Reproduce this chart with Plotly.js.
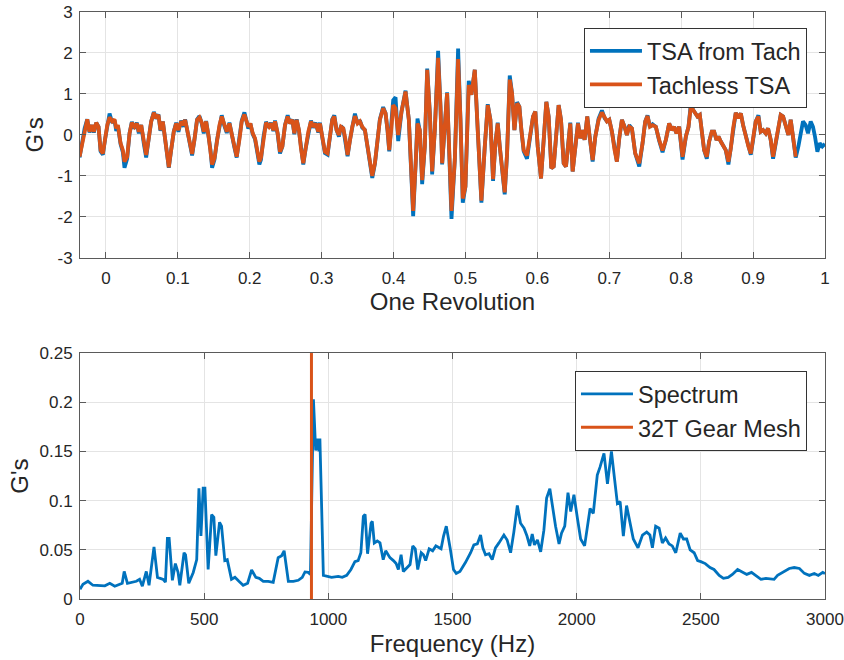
<!DOCTYPE html>
<html><head><meta charset="utf-8">
<script src="https://cdn.plot.ly/plotly-3.0.1.min.js"></script>
<style>html,body{margin:0;padding:0;background:#fff}#chart{width:844px;height:660px}</style>
</head><body><div id="chart"></div>
<script>
const revolution = [
-0.0366,-0.0333,-0.0296,-0.0259,-0.0227,-0.0194,-0.0167,-0.0134,-0.0102,-0.0074,
-0.0042,-0.0009,0.0019,0.0051,0.0088,0.0120,0.0144,0.0167,0.0204,0.0236,
0.0259,0.0296,0.0329,0.0361,0.0398,0.0430,0.0458,0.0491,0.0528,0.0560,
0.0593,0.0630,0.0667,0.0700,0.0731,0.0759,0.0792,0.0824,0.0852,0.0875,
0.0907,0.0944,0.0977,0.1009,0.1046,0.1083,0.1102,0.1139,0.1176,0.1199,
0.1231,0.1268,0.1301,0.1333,0.1361,0.1394,0.1426,0.1454,0.1477,0.1510,
0.1546,0.1579,0.1611,0.1648,0.1681,0.1718,0.1750,0.1787,0.1819,0.1856,
0.1889,0.1926,0.1949,0.1981,0.2009,0.2042,0.2074,0.2102,0.2134,0.2157,
0.2190,0.2227,0.2269,0.2296,0.2329,0.2352,0.2389,0.2421,0.2454,0.2491,
0.2528,0.2560,0.2593,0.2620,0.2653,0.2685,0.2713,0.2745,0.2778,0.2815,
0.2852,0.2884,0.2917,0.2954,0.2977,0.3009,0.3046,0.3083,0.3116,0.3148,
0.3176,0.3208,0.3241,0.3269,0.3301,0.3333,0.3361,0.3394,0.3426,0.3463,
0.3500,0.3532,0.3565,0.3602,0.3639,0.3671,0.3704,0.3741,0.3778,0.3810,
0.3856,0.3889,0.3917,0.3940,0.3972,0.3995,0.4028,0.4065,0.4111,0.4167,
0.4213,0.4250,0.4273,0.4310,0.4333,0.4366,0.4398,0.4435,0.4468,0.4505,
0.4537,0.4574,0.4620,0.4653,0.4676,0.4745,0.4806,0.4852,0.4898,0.4931,
0.4963,0.5000,0.5046,0.5083,0.5130,0.5171,0.5222,0.5269,0.5310,0.5347,
0.5384,0.5417,0.5449,0.5477,0.5509,0.5546,0.5579,0.5616,0.5648,0.5681,
0.5718,0.5750,0.5778,0.5810,0.5856,0.5903,0.5940,0.5972,0.6005,0.6051,
0.6088,0.6125,0.6157,0.6194,0.6227,0.6264,0.6296,0.6329,0.6366,0.6398,
0.6426,0.6458,0.6491,0.6528,0.6565,0.6597,0.6630,0.6657,0.6694,0.6727,
0.6769,0.6806,0.6852,0.6898,0.6935,0.6968,0.7000,0.7037,0.7074,0.7106,
0.7139,0.7176,0.7213,0.7245,0.7278,0.7315,0.7361,0.7417,0.7463,0.7500,
0.7532,0.7565,0.7602,0.7648,0.7694,0.7741,0.7787,0.7833,0.7870,0.7903,
0.7935,0.7972,0.8019,0.8065,0.8102,0.8134,0.8167,0.8194,0.8227,0.8259,
0.8287,0.8319,0.8356,0.8389,0.8426,0.8458,0.8491,0.8519,0.8551,0.8588,
0.8620,0.8657,0.8690,0.8722,0.8759,0.8796,0.8829,0.8861,0.8898,0.8935,
0.8968,0.9000,0.9037,0.9074,0.9106,0.9139,0.9176,0.9208,0.9245,0.9278,
0.9315,0.9352,0.9384,0.9417,0.9454,0.9491,0.9523,0.9556,0.9593,
0.9630,0.9662,0.9694,0.9731,0.9764,0.9801,0.9833,0.9861,0.9894,0.9926,0.9963,1.0000
];
const tsaFromTach = [
-0.55,-0.24,0.16,0.38,0.06,0.24,0.06,0.30,0.20,-0.40,
-0.48,-0.08,0.26,0.52,0.30,0.36,0.10,0.22,-0.22,-0.42,
-0.80,-0.58,0.04,0.32,0.16,0.30,0.04,0.24,-0.22,-0.55,
-0.12,0.33,0.56,0.40,0.50,0.10,0.33,-0.12,-0.55,-0.80,
-0.37,0.08,0.30,0.08,0.35,0.20,0.38,0.05,-0.26,-0.50,
-0.12,0.38,0.46,0.28,0.04,0.34,-0.02,-0.36,-0.80,-0.60,
-0.12,0.26,0.48,0.22,0.05,0.30,-0.02,-0.30,-0.55,-0.12,
0.35,0.55,0.35,0.16,0.28,0.02,-0.10,-0.40,-0.72,-0.60,
-0.06,0.32,0.18,0.30,0.10,0.35,0.02,-0.45,-0.28,0.24,
0.48,0.28,0.38,0.02,0.38,0.10,-0.35,-0.72,-0.33,0.08,
0.35,0.18,0.30,0.06,0.30,-0.06,-0.44,-0.48,0.00,0.38,
0.48,0.12,-0.04,0.22,0.16,-0.14,-0.52,-0.12,0.22,0.52,
0.28,0.36,0.18,0.12,-0.30,-0.68,-1.05,-0.70,-0.20,0.38,
0.68,0.53,0.10,-0.40,0.35,0.85,0.92,-0.15,0.57,1.08,
0.37,-0.85,-1.98,-0.61,0.40,0.10,-1.20,-0.28,1.62,0.53,
-0.96,0.12,2.05,0.69,-0.72,1.04,-2.05,-0.61,2.11,0.37,
-1.65,-1.26,1.32,0.98,1.59,0.12,-1.65,-0.28,0.75,0.37,
-1.12,-0.20,0.30,-0.28,-0.77,-1.45,-0.45,1.45,1.02,0.12,
0.80,0.69,0.12,-0.40,-0.58,0.00,0.45,0.57,-0.28,-1.06,
-0.16,0.81,0.45,-0.81,-0.77,0.20,0.73,0.37,-0.69,-0.77,
-0.20,0.30,-0.89,-0.24,0.30,-0.08,0.12,-0.12,0.45,-0.04,
-0.65,-0.04,0.40,0.60,0.41,0.33,0.37,0.08,-0.37,-0.65,
-0.08,0.37,0.20,0.00,0.24,0.16,-0.45,-0.77,-0.20,0.33,
0.48,0.20,0.26,0.20,-0.14,-0.42,-0.12,0.28,0.12,0.20,
0.04,0.20,-0.60,-0.04,0.20,0.75,0.61,0.53,0.45,0.49,
0.08,-0.37,-0.58,-0.16,0.08,0.08,-0.12,-0.04,-0.16,-0.28,
-0.37,-0.72,-0.33,0.16,0.54,0.41,0.53,0.24,-0.04,-0.28,
-0.48,-0.12,0.33,0.48,0.08,0.12,0.04,0.16,-0.12,-0.58,
-0.20,0.20,0.49,0.45,0.24,0.00,0.37,0.00,-0.55,
-0.28,0.04,0.33,0.24,0.04,0.33,0.20,-0.04,-0.41,-0.20,-0.28,-0.22
];
const tachlessTsa = [
-0.53,-0.24,0.16,0.38,0.08,0.24,0.08,0.30,0.20,-0.37,
-0.45,-0.08,0.24,0.43,0.33,0.38,0.16,0.24,-0.20,-0.37,
-0.65,-0.53,0.04,0.30,0.20,0.28,0.08,0.24,-0.20,-0.49,
-0.12,0.33,0.54,0.41,0.49,0.12,0.33,-0.12,-0.53,-0.79,
-0.37,0.08,0.28,0.12,0.33,0.24,0.37,0.08,-0.24,-0.46,
-0.12,0.37,0.43,0.30,0.08,0.33,0.00,-0.33,-0.72,-0.57,
-0.12,0.24,0.45,0.24,0.08,0.28,0.00,-0.28,-0.53,-0.12,
0.33,0.50,0.37,0.20,0.28,0.04,-0.08,-0.37,-0.65,-0.55,
-0.06,0.30,0.20,0.28,0.12,0.33,0.04,-0.41,-0.28,0.24,
0.45,0.28,0.37,0.04,0.37,0.12,-0.33,-0.69,-0.33,0.08,
0.33,0.20,0.28,0.08,0.28,-0.04,-0.41,-0.45,0.00,0.37,
0.45,0.12,0.00,0.20,0.16,-0.12,-0.49,-0.12,0.20,0.46,
0.28,0.33,0.20,0.12,-0.28,-0.65,-1.00,-0.69,-0.20,0.37,
0.65,0.53,0.12,-0.37,0.20,0.73,0.65,0.00,0.57,1.06,
0.37,-0.85,-1.85,-0.61,0.28,0.12,-1.10,-0.28,1.59,0.53,
-0.89,0.12,1.88,0.69,-0.69,1.02,-1.85,-0.61,1.85,0.37,
-1.55,-1.26,1.22,0.98,1.59,0.12,-1.60,-0.28,0.73,0.37,
-1.08,-0.20,0.28,-0.28,-0.77,-1.40,-0.45,1.35,1.02,0.12,
0.77,0.69,0.12,-0.37,-0.50,0.00,0.45,0.57,-0.28,-1.06,
-0.16,0.81,0.45,-0.81,-0.77,0.20,0.73,0.37,-0.69,-0.77,
-0.20,0.28,-0.89,-0.24,0.28,-0.08,0.12,-0.12,0.45,-0.04,
-0.61,-0.04,0.37,0.55,0.41,0.33,0.37,0.08,-0.37,-0.65,
-0.08,0.37,0.20,0.00,0.20,0.16,-0.45,-0.69,-0.20,0.33,
0.46,0.20,0.24,0.20,-0.12,-0.38,-0.12,0.28,0.12,0.20,
0.04,0.20,-0.53,-0.04,0.20,0.69,0.61,0.53,0.45,0.49,
0.08,-0.37,-0.53,-0.16,0.08,0.08,-0.12,-0.04,-0.16,-0.28,
-0.37,-0.65,-0.33,0.16,0.54,0.41,0.53,0.24,-0.04,-0.28,
-0.45,-0.12,0.33,0.45,0.08,0.12,0.04,0.16,-0.12,-0.53,
-0.20,0.20,0.49,0.45,0.24,0.00,0.37,0.00,-0.53
];
const frequencyHz = [
0,12,32,52,100,120,140,160,170,178,191,227,240,251,267,278,298,312,335,344,
352,359,372,384,395,402,419,425,438,456,470,479,487,496,503,516,530,539,547,562,
570,583,593,610,624,640,657,675,691,708,722,738,758,778,798,812,822,839,859,879,
895,906,919,928,936,940,949,957,962,966,980,1000,1013,1040,1056,1074,1091,1107,1120,1131,
1141,1148,1158,1172,1177,1185,1197,1208,1221,1231,1248,1262,1273,1282,1293,1302,1316,1329,1340,1350,
1360,1374,1383,1392,1406,1420,1433,1444,1454,1464,1475,1491,1504,1515,1530,1552,1573,1586,1600,1613,
1622,1633,1647,1660,1673,1687,1707,1720,1734,1747,1761,1774,1788,1800,1811,1821,1830,1842,1855,1868,
1879,1892,1902,1915,1929,1939,1952,1965,1976,1989,2003,2016,2032,2043,2054,2067,2083,2094,2110,2124,
2140,2153,2164,2175,2188,2201,2215,2228,2247,2265,2282,2295,2305,2318,2332,2345,2358,2372,2385,2399,
2417,2430,2443,2457,2473,2487,2500,2518,2537,2553,2574,2591,2610,2627,2648,2668,2685,2704,2722,2742,
2762,2782,2795,2809,2829,2856,2876,2897,2917,2937,2957,2973,2991,3000
];
const spectrumG = [
0.010,0.015,0.018,0.014,0.0134,0.016,0.013,0.015,0.016,0.028,0.016,0.018,0.020,0.013,0.028,0.014,0.053,0.022,0.020,0.017,
0.0615,0.0615,0.019,0.036,0.027,0.014,0.047,0.045,0.016,0.027,0.040,0.1126,0.064,0.1126,0.1126,0.030,0.0857,0.083,0.044,0.078,
0.074,0.039,0.040,0.020,0.022,0.018,0.014,0.016,0.0295,0.022,0.021,0.018,0.018,0.017,0.042,0.044,0.049,0.018,0.018,0.019,
0.022,0.0275,0.027,0.025,0.12,0.203,0.151,0.163,0.150,0.163,0.024,0.023,0.022,0.023,0.022,0.024,0.030,0.038,0.039,0.047,
0.084,0.086,0.046,0.077,0.079,0.057,0.059,0.057,0.040,0.049,0.042,0.039,0.036,0.030,0.045,0.028,0.032,0.035,0.054,0.051,
0.030,0.047,0.045,0.039,0.051,0.049,0.054,0.052,0.051,0.064,0.074,0.051,0.030,0.026,0.028,0.037,0.047,0.055,0.056,0.065,
0.052,0.045,0.046,0.040,0.052,0.057,0.065,0.060,0.047,0.068,0.095,0.077,0.072,0.064,0.054,0.066,0.055,0.060,0.048,0.070,
0.1025,0.112,0.094,0.074,0.056,0.067,0.074,0.108,0.089,0.106,0.082,0.061,0.054,0.074,0.092,0.087,0.126,0.134,0.148,0.117,
0.150,0.121,0.097,0.099,0.064,0.095,0.077,0.061,0.052,0.065,0.068,0.065,0.052,0.074,0.072,0.057,0.062,0.056,0.054,0.047,
0.067,0.061,0.061,0.050,0.047,0.039,0.038,0.036,0.032,0.030,0.024,0.021,0.022,0.025,0.030,0.027,0.025,0.027,0.024,0.020,
0.021,0.020,0.020,0.024,0.027,0.031,0.032,0.031,0.026,0.024,0.026,0.024,0.027,0.026
];
const gearMeshHz = [932, 932];
const gearMeshG = [0, 0.25];
const tsaTickValues = [-3, -2, -1, 0, 1, 2, 3];
const tsaTickLabels = ['-3', '-2', '-1', '0', '1', '2', '3'];

const BLUE = '#0072BD', ORANGE = '#D95319';
const FONT = 'Liberation Sans, Arial, Helvetica, sans-serif';
const TXT = '#262626';

const traces = [
  {x: revolution, y: tsaFromTach, type: 'scatter', mode: 'lines', name: 'TSA from Tach',
   line: {color: BLUE, width: 3.8}, xaxis: 'x', yaxis: 'y', legend: 'legend'},
  {x: revolution.slice(0, tachlessTsa.length), y: tachlessTsa, type: 'scatter', mode: 'lines', name: 'Tachless TSA',
   line: {color: ORANGE, width: 3.8}, xaxis: 'x', yaxis: 'y', legend: 'legend'},
  {x: frequencyHz, y: spectrumG, type: 'scatter', mode: 'lines', name: 'Spectrum',
   line: {color: BLUE, width: 2.8}, xaxis: 'x2', yaxis: 'y2', legend: 'legend2'},
  {x: gearMeshHz, y: gearMeshG, type: 'scatter', mode: 'lines', name: '32T Gear Mesh',
   line: {color: ORANGE, width: 3}, xaxis: 'x2', yaxis: 'y2', legend: 'legend2'}
];

function ax(extra) {
  return Object.assign({
    showline: true, linecolor: '#5a5a5a', linewidth: 1, mirror: 'ticks',
    ticks: 'inside', ticklen: 6, tickcolor: '#5a5a5a', tickwidth: 1,
    showgrid: true, gridcolor: '#e4e4e4', gridwidth: 1, zeroline: false,
    tickfont: {family: FONT, size: 17, color: TXT}, fixedrange: true
  }, extra);
}
const titleFont = {family: FONT, size: 24, color: TXT};
const legendBase = {xanchor: 'right', yanchor: 'top', bgcolor: '#ffffff',
  bordercolor: '#333333', borderwidth: 1, font: {family: FONT, size: 23.5, color: TXT},
  tracegroupgap: 0, itemwidth: 52};

const layout = {
  width: 844, height: 660,
  margin: {l: 80, r: 19, t: 12, b: 61},
  paper_bgcolor: '#ffffff', plot_bgcolor: '#ffffff',
  showlegend: true,
  xaxis: ax({domain: [0, 1], anchor: 'y', range: [-0.036, 1], tick0: 0, dtick: 0.1, ticklabelstandoff: 5,
    title: {text: 'One Revolution', font: titleFont, standoff: 4}}),
  yaxis: ax({domain: [0.581, 1], anchor: 'x', range: [-3, 3], tickmode: 'array',
    tickvals: tsaTickValues, ticktext: tsaTickLabels, ticklabelstandoff: 3,
    title: {text: "G's", font: titleFont, standoff: 7}}),
  xaxis2: ax({domain: [0, 1], anchor: 'y2', range: [0, 3000], tick0: 0, dtick: 500, ticklabelstandoff: 5,
    title: {text: 'Frequency (Hz)', font: titleFont, standoff: 6}}),
  yaxis2: ax({domain: [0, 0.419], anchor: 'x2', range: [0, 0.25], tick0: 0, dtick: 0.05, ticklabelstandoff: 3,
    title: {text: "G's", font: titleFont, standoff: 4}}),
  legend: Object.assign({x: 0.9758, y: 0.9727}, legendBase),
  legend2: Object.assign({x: 0.9758, y: 0.3884}, legendBase)
};

Plotly.newPlot('chart', traces, layout, {displayModeBar: false, staticPlot: true});
</script>
</body></html>
